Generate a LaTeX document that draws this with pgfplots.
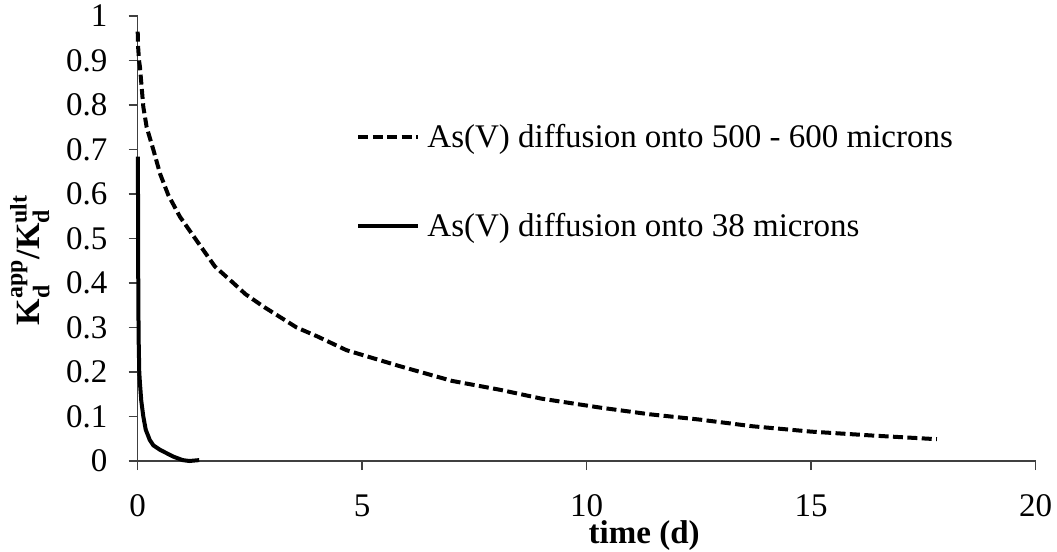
\documentclass[border=0pt]{standalone}
\usepackage{pgfplots}
\pgfplotsset{compat=1.18}
\usepackage{amsmath}
\usepackage{fontspec}
\setmainfont{Liberation Serif}

% dashed: coarse particles (500-600 microns); solid: fine particles (38 microns)
\pgfplotstableread{
t     r
0     0.965
0.01  0.93
0.03  0.90
0.05  0.886
0.08  0.85
0.125 0.796
0.2   0.75
0.35  0.699
0.5   0.645
0.68  0.598
0.94  0.549
1.28  0.500
1.72  0.437
2.13  0.400
2.4   0.375
2.8   0.347
3.54  0.300
4.0   0.280
4.65  0.249
5.84  0.213
7.0   0.180
8.07  0.160
9.0   0.140
10.3  0.120
11.4  0.105
12.52 0.093
13.7  0.078
15.0  0.066
16.4  0.057
17.8  0.049
}\coarse

\pgfplotstableread{
t     r
0.005 0.684
0.01  0.45
0.02  0.28
0.035 0.20
0.05  0.175
0.08  0.135
0.125 0.100
0.18  0.070
0.27  0.047
0.35  0.035
0.5   0.025
0.79  0.010
1.0   0.002
1.15  0.000
1.37  0.002
}\fine

\begin{document}
\begin{tikzpicture}
\begin{axis}[
  at={(0,0)}, anchor=origin,
  scale only axis,
  width=449pt, height=222.5pt,
  xmin=0, xmax=20, ymin=0, ymax=1,
  axis x line*=bottom, axis y line*=left,
  axis line style={black!75, line width=0.75pt, -},
  xtick={0,5,10,15,20},
  ytick={0,0.1,...,1.0},
  yticklabels={0,0.1,0.2,0.3,0.4,0.5,0.6,0.7,0.8,0.9,1},
  tick align=outside,
  major tick length=4.5pt,
  tick style={black!75, line width=0.75pt},
  /pgf/number format/assume math mode=true,
  tick label style={font=\fontsize{16.5}{19}\selectfont, inner sep=0pt},
  xticklabel style={anchor=north, yshift=-12pt},
  yticklabel style={anchor=east, xshift=-10.5pt},
  xlabel={\textbf{time (d)}},
  xlabel style={font=\fontsize{16.5}{19}\selectfont, at={(axis description cs:0.564,-0.168)}, anchor=center},
  ylabel={\textbf{K$_{\text{d}}^{\text{app}}$/K$_{\text{d}}^{\text{ult}}$}},
  ylabel style={font=\fontsize{17}{19}\selectfont, at={(axis description cs:-0.12,0.452)}, anchor=center, rotate=0},
  legend style={draw=none, fill=none, at={(axis description cs:0.2365,0.628)}, anchor=west,
    font=\fontsize{16.5}{19}\selectfont, row sep=31.5pt, column sep=3.5pt,
    nodes={inner sep=0pt}},
  legend cell align=left,
  legend image code/.code={\draw[#1] (0pt,0pt) -- (30pt,0pt);},
  clip=false,
]
\addplot[black, line width=2pt, dash pattern=on 5pt off 2.2pt] table[x=t, y=r] {\coarse};
\addlegendentry{As(V) diffusion onto 500 - 600 microns}
\addplot[black, line width=2pt] table[x=t, y=r] {\fine};
\addlegendentry{As(V) diffusion onto 38 microns}
\end{axis}
\pgfresetboundingbox
\path[use as bounding box] (-68.85pt,-45.5pt) rectangle (459.65pt,230.5pt);
\end{tikzpicture}
\end{document}
